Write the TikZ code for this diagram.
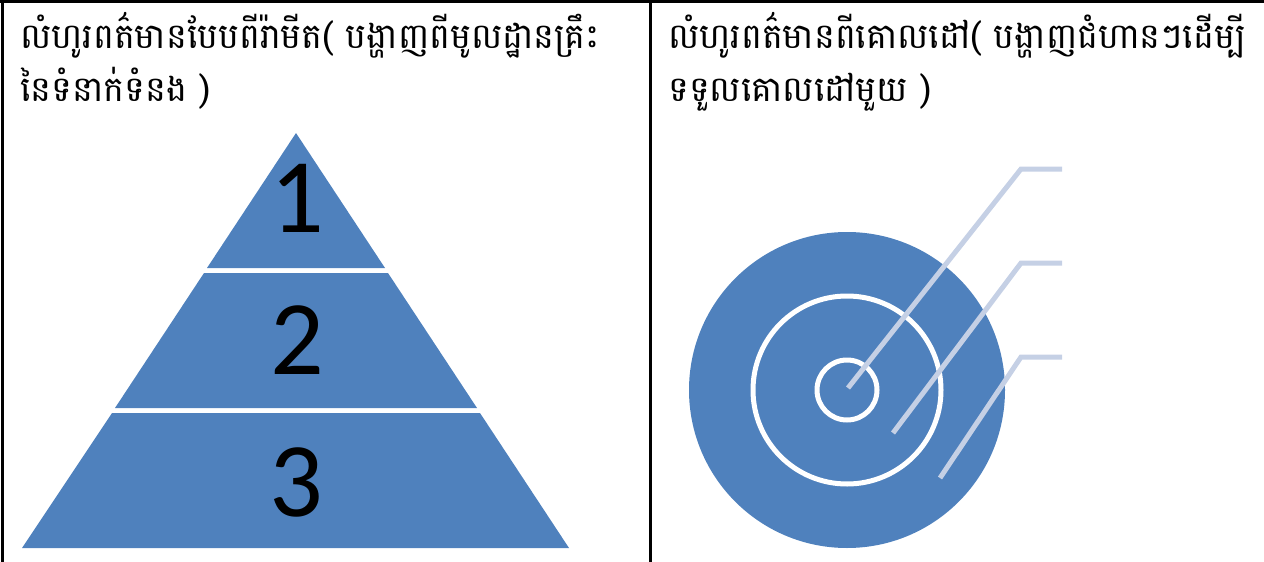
\documentclass[tikz,border=0pt]{standalone}
\usepackage{fontspec}
\newfontfamily\khmer[Script=Khmer]{Battambang}
\newfontfamily\digits{Carlito}
\definecolor{pyrblue}{RGB}{79,129,189}
\definecolor{calloutc}{RGB}{197,208,229}
\begin{document}
\begin{tikzpicture}[x=1pt,y=-1pt,
  hdr/.style={anchor=base west,inner sep=0pt,font=\khmer\fontsize{35}{40}\selectfont},
  num/.style={inner sep=0pt,font=\digits\fontsize{106}{110}\selectfont},
  tier/.style={fill=pyrblue},
  ring/.style={draw=white,line width=5pt},
  callout/.style={draw=calloutc,line width=5pt}]
\useasboundingbox (0,0) rectangle (1264,562);
% table rules
\draw[line width=3pt] (0,1.5) -- (1264,1.5);
\draw[line width=3pt] (2,0) -- (2,562);
\draw[line width=3pt] (650,0) -- (650,562);
% headers
\node[hdr] (l1) at (20,48) {លំហូរពត៌មានបែបពីរ៉ាមីត( បង្ហាញពីមូលដ្ឋានគ្រឹះ};
\node[hdr] (l2) at (20,101) {នៃទំនាក់ទំនង )};
\node[hdr] (r1) at (668,48) {លំហូរពត៌មានពីគោលដៅ( បង្ហាញជំហានៗដើម្បី};
\node[hdr] (r2) at (668,101) {ទទួលគោលដៅមួយ )};
% pyramid
\fill[tier] (296,133) -- (385,268) -- (207,268) -- cycle;
\fill[tier] (204,273) -- (388,273) -- (477,408) -- (115,408) -- cycle;
\fill[tier] (112,413) -- (480,413) -- (569,548) -- (22,548) -- cycle;
\node[num] (n1) at (297,198) {1};
\node[num] (n2) at (297,340) {2};
\node[num] (n3) at (296,482) {3};
% target
\coordinate (c) at (847,390);
\fill[pyrblue] (c) circle (158);
\draw[ring] (c) circle (94);
\draw[ring] (c) circle (30);
\coordinate (a1) at (848,388);
\coordinate (b1) at (1021,169);
\coordinate (e1) at (1062,169);
\coordinate (a2) at (893,433);
\coordinate (b2) at (1021,263);
\coordinate (e2) at (1062,263);
\coordinate (a3) at (940,478);
\coordinate (b3) at (1021,357);
\coordinate (e3) at (1062,357);
\draw[callout] (a1) -- (b1) -- (e1);
\draw[callout] (a2) -- (b2) -- (e2);
\draw[callout] (a3) -- (b3) -- (e3);
\end{tikzpicture}
\end{document}
